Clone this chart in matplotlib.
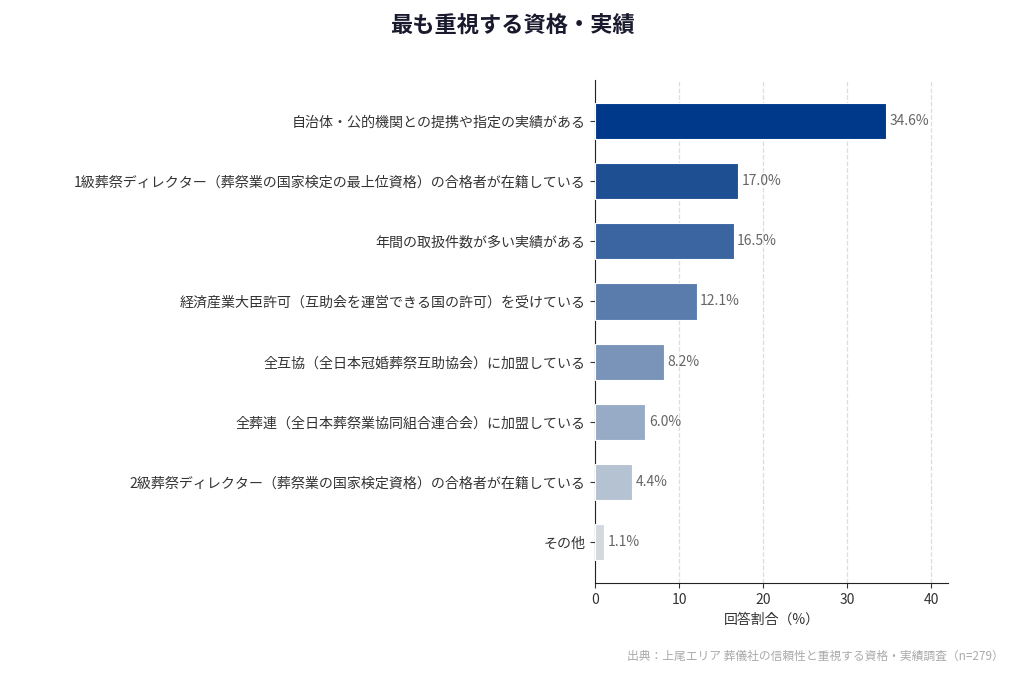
import matplotlib

matplotlib.use("Agg")
import matplotlib.pyplot as plt

plt.rcParams["font.family"] = ["Noto Sans CJK JP", "DejaVu Sans"]

categories = [
    "自治体・公的機関との提携や指定の実績がある",
    "1級葬祭ディレクター（葬祭業の国家検定の最上位資格）の合格者が在籍している",
    "年間の取扱件数が多い実績がある",
    "経済産業大臣許可（互助会を運営できる国の許可）を受けている",
    "全互協（全日本冠婚葬祭互助協会）に加盟している",
    "全葬連（全日本葬祭業協同組合連合会）に加盟している",
    "2級葬祭ディレクター（葬祭業の国家検定資格）の合格者が在籍している",
    "その他",
]
values = [34.6, 17.0, 16.5, 12.1, 8.2, 6.0, 4.4, 1.1]
colors = [
    "#00388a", "#1f4f93", "#3b65a0", "#5a7cad",
    "#7a94b9", "#98abc6", "#b5c2d2", "#d3d9df",
]

fig = plt.figure(figsize=(10.24, 6.83), dpi=100)
ax = fig.add_axes([0.581, 0.146, 0.345, 0.737])

ypos = list(range(len(categories)))
ax.barh(ypos, values, height=0.6, color=colors, edgecolor="white", linewidth=0.8, zorder=3)
ax.invert_yaxis()
ax.set_yticks(ypos)
ax.set_yticklabels(categories, fontsize=10.1, color="#333333")

for y, v in zip(ypos, values):
    ax.text(v + 0.4, y, f"{v:.1f}%", va="center", ha="left", fontsize=10, color="#666666")

ax.set_xlim(0, 42)
ax.set_xticks([0, 10, 20, 30, 40])
ax.tick_params(axis="x", labelsize=10, colors="#333333")
ax.tick_params(axis="y", colors="#333333")
ax.set_xlabel("回答割合（%）", fontsize=10, color="#333333")
ax.grid(axis="x", linestyle="--", color="#dddddd", linewidth=0.9, zorder=0)
ax.spines["top"].set_visible(False)
ax.spines["right"].set_visible(False)
ax.spines["left"].set_color("#222222")
ax.spines["bottom"].set_color("#222222")

fig.suptitle("最も重視する資格・実績", fontsize=16, fontweight="bold", color="#1a1a2e", y=0.978)
fig.text(0.98, 0.03, "出典：上尾エリア 葬儀社の信頼性と重視する資格・実績調査（n=279）",
         ha="right", va="bottom", fontsize=8.5, color="#aaaaaa")

fig.savefig("out.png", dpi=100)
plt.close(fig)
